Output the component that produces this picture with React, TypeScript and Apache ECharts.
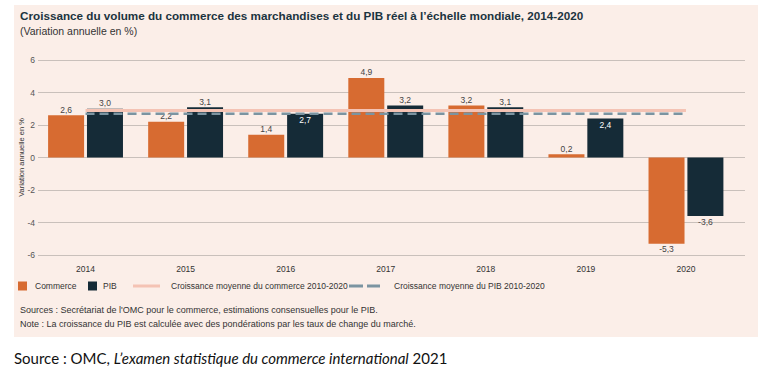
import React, { useEffect, useRef } from "react";
import * as echarts from "echarts";

const years = ["2014", "2015", "2016", "2017", "2018", "2019", "2020"];
const commerce = [2.6, 2.2, 1.4, 4.9, 3.2, 0.2, -5.3];
const pib = [3.0, 3.1, 2.7, 3.2, 3.1, 2.4, -3.6];
const commerceAvg = [2.9, 2.9, 2.9, 2.9, 2.9, 2.9, 2.9];
const pibAvg = [2.7, 2.7, 2.7, 2.7, 2.7, 2.7, 2.7];
const pibLabelInside = [false, false, true, false, false, true, false];
const yMin = -6;
const yMax = 6;
const yStep = 2;

const FONT = "'Liberation Sans', Arial, Helvetica, sans-serif";
const ORANGE = "#d76b31";
const DARK = "#152b37";
const PINK = "#f4c3b4";
const DASH = "#7b94a1";
const BG = "#fbeee8";

const fmt = (v: number) => Number(v).toFixed(1).replace(".", ",");

export default function App() {
  const ref = useRef<HTMLDivElement>(null);
  useEffect(() => {
    if (!ref.current) return;
    const chart = echarts.init(ref.current, undefined, { renderer: "svg" });
    const baseLabel = {
      show: true,
      fontFamily: FONT,
      fontSize: 8.5,
      color: "#444",
      distance: 1,
      formatter: (p: any) => fmt(p.value),
    };
    const commerceData = commerce.map((v) => ({
      value: v,
      label: { position: v < 0 ? "bottom" : "top" },
    }));
    const pibData = pib.map((v, i) => ({
      value: v,
      label: pibLabelInside[i]
        ? { position: "insideTop", color: "#fff", distance: 2 }
        : { position: v < 0 ? "bottom" : "top" },
    }));
    const legendY = 286;
    const option: any = {
      animation: false,
      backgroundColor: "#ffffff",
      textStyle: { fontFamily: FONT },
      grid: [
        { left: 38, right: 28, top: 60, height: 195 },
        { left: 35.5, right: 37, top: 60, height: 195 },
      ],
      xAxis: [
        { type: "value", gridIndex: 0, show: false, min: 0, max: 1 },
        {
          type: "category",
          gridIndex: 1,
          data: years,
          axisLine: { show: false },
          axisTick: { show: false },
          axisLabel: { fontFamily: FONT, fontSize: 8.5, color: "#333", margin: 9 },
        },
      ],
      yAxis: [
        {
          type: "value",
          gridIndex: 0,
          min: yMin,
          max: yMax,
          interval: yStep,
          axisLine: { show: false },
          axisTick: { show: false },
          axisLabel: { fontFamily: FONT, fontSize: 8.5, color: "#555", margin: 3 },
          splitLine: { lineStyle: { color: "#c9c0bb", width: 1 } },
          name: "Variation annuelle en %",
          nameLocation: "middle",
          nameRotate: 90,
          nameGap: 13,
          nameMoveOverlap: false,
          nameTextStyle: { fontFamily: FONT, fontSize: 7.5, color: "#333" },
        },
        { type: "value", gridIndex: 1, min: yMin, max: yMax, interval: yStep, show: false },
      ],
      series: [
        {
          name: "Commerce",
          type: "bar",
          xAxisIndex: 1,
          yAxisIndex: 1,
          barWidth: 36,
          barGap: "8%",
          itemStyle: { color: ORANGE },
          label: baseLabel,
          data: commerceData,
          z: 2,
        },
        {
          name: "PIB",
          type: "bar",
          xAxisIndex: 1,
          yAxisIndex: 1,
          barWidth: 36,
          barGap: "8%",
          itemStyle: { color: DARK },
          label: baseLabel,
          data: pibData,
          z: 2,
        },
        {
          name: "Croissance moyenne du commerce 2010-2020",
          type: "line",
          xAxisIndex: 1,
          yAxisIndex: 1,
          symbol: "none",
          lineStyle: { color: PINK, width: 3 },
          data: commerceAvg,
          z: 5,
        },
        {
          name: "Croissance moyenne du PIB 2010-2020",
          type: "line",
          xAxisIndex: 1,
          yAxisIndex: 1,
          symbol: "none",
          lineStyle: { color: DASH, width: 2.5, type: [9, 5] },
          data: pibAvg,
          z: 6,
        },
      ],
      graphic: [
        { type: "rect", z: -100, shape: { x: 14, y: 5, width: 744, height: 332 }, style: { fill: BG } },
        {
          type: "text", x: 20, y: 15,
          style: {
            text: "Croissance du volume du commerce des marchandises et du PIB réel à l’échelle mondiale, 2014-2020",
            font: `bold 11.7px ${FONT}`, fill: "#1c3440", verticalAlign: "middle",
          },
        },
        {
          type: "text", x: 20, y: 31,
          style: { text: "(Variation annuelle en %)", font: `10.5px ${FONT}`, fill: "#333", verticalAlign: "middle" },
        },
        { type: "rect", shape: { x: 18, y: legendY - 4.5, width: 9, height: 9 }, style: { fill: ORANGE } },
        {
          type: "text", x: 35, y: legendY,
          style: { text: "Commerce", font: `8.5px ${FONT}`, fill: "#333", verticalAlign: "middle" },
        },
        { type: "rect", shape: { x: 88, y: legendY - 4.5, width: 9, height: 9 }, style: { fill: DARK } },
        {
          type: "text", x: 103, y: legendY,
          style: { text: "PIB", font: `8.5px ${FONT}`, fill: "#333", verticalAlign: "middle" },
        },
        {
          type: "line", shape: { x1: 133, y1: legendY, x2: 160, y2: legendY },
          style: { stroke: PINK, lineWidth: 3 },
        },
        {
          type: "text", x: 171, y: legendY,
          style: { text: "Croissance moyenne du commerce 2010-2020", font: `8.5px ${FONT}`, fill: "#333", verticalAlign: "middle" },
        },
        {
          type: "line", shape: { x1: 349, y1: legendY, x2: 380, y2: legendY },
          style: { stroke: DASH, lineWidth: 3, lineDash: [14, 4] },
        },
        {
          type: "text", x: 394, y: legendY,
          style: { text: "Croissance moyenne du PIB 2010-2020", font: `8.5px ${FONT}`, fill: "#333", verticalAlign: "middle" },
        },
        {
          type: "text", x: 20, y: 310,
          style: {
            text: "Sources : Secrétariat de l'OMC pour le commerce, estimations consensuelles pour le PIB.",
            font: `9px ${FONT}`, fill: "#333", verticalAlign: "middle",
          },
        },
        {
          type: "text", x: 20, y: 324,
          style: {
            text: "Note : La croissance du PIB est calculée avec des pondérations par les taux de change du marché.",
            font: `9px ${FONT}`, fill: "#333", verticalAlign: "middle",
          },
        },
        {
          type: "text", x: 14, y: 358,
          style: {
            text: "{n|Source : OMC, }{i|L’examen statistique du commerce international}{n| 2021}",
            verticalAlign: "middle",
            rich: {
              n: { fontFamily: "Lato, 'Open Sans', sans-serif", fontSize: 15, fill: "#111" },
              i: { fontFamily: "Lato, 'Open Sans', sans-serif", fontSize: 15, fontStyle: "italic", fill: "#111" },
            },
          },
        },
      ],
    };
    chart.setOption(option);
    return () => chart.dispose();
  }, []);
  return (
    <div
      ref={ref}
      style={{ position: "fixed", left: 0, top: 0, width: 773, height: 378 }}
    />
  );
}
